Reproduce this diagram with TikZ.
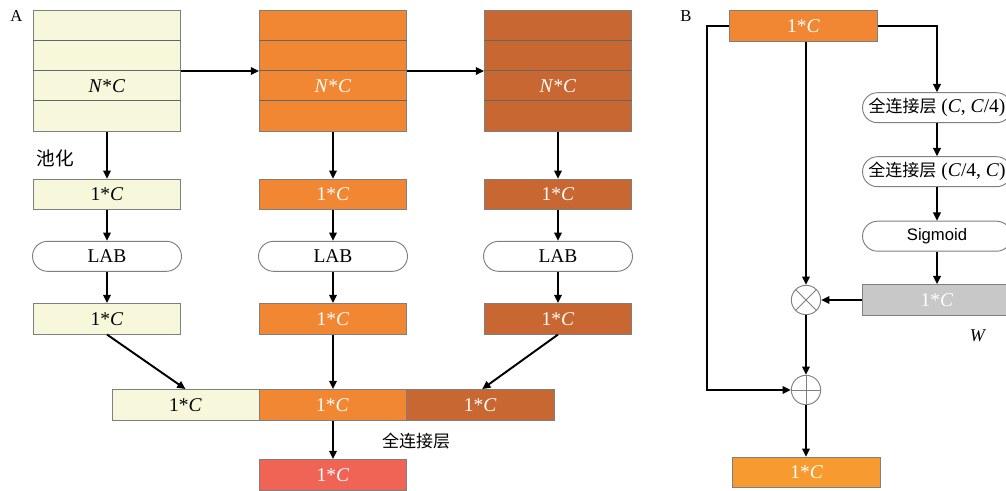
\documentclass[tikz,border=0pt]{standalone}
\usepackage{fontspec}
\setmainfont{Liberation Serif}
\newfontfamily\cjk{Noto Sans CJK SC}
\newfontfamily\sansface{Liberation Sans}
\usetikzlibrary{arrows.meta,shapes.misc,calc}

\definecolor{cream}{HTML}{F7F7DC}
\definecolor{orangeA}{HTML}{F28733}
\definecolor{rust}{HTML}{C96733}
\definecolor{salmon}{HTML}{F06455}
\definecolor{amber}{HTML}{F79A30}
\definecolor{greyW}{HTML}{C8C8C8}
\definecolor{edge}{HTML}{7F7F7F}

\newcommand\fmain{\fontsize{14.6}{17}\selectfont}
\newcommand\fcjk{\cjk\fontsize{12.75}{15}\selectfont}
\newcommand\oneC{1*\textit{C}}

\begin{document}
\begin{tikzpicture}[x=0.75pt,y=-0.75pt,
  box/.style={draw=edge,line width=0.7pt,minimum width=110.25pt,minimum height=22.9pt,inner sep=0pt,font=\fmain},
  stackbox/.style={draw=edge,line width=0.7pt,minimum width=110.25pt,minimum height=90.75pt,inner sep=0pt},
  rowline/.style={draw=black!60,line width=0.75pt},
  pill/.style={rounded rectangle,draw=edge,line width=0.7pt,fill=white,minimum width=111.75pt,minimum height=22.5pt,inner sep=0pt,font=\fmain},
  op/.style={circle,draw=edge,line width=0.7pt,fill=white,minimum size=22pt,inner sep=0pt},
  opline/.style={draw=edge,line width=0.6pt},
  arr/.style={-{Triangle[length=6.2pt,width=5.6pt]},line width=1.45pt},
  whitetext/.style={text=white}]
\useasboundingbox (0,0) rectangle (1006,490);
\clip (0,0) rectangle (1006,490);

% ---------------- panel A ----------------
\node[font=\fontsize{12.5}{14}\selectfont] (lA) at (16.5,16) {A};

% feature stacks
\node[stackbox,fill=cream]   (as) at (107,71) {};
\node[stackbox,fill=orangeA] (bs) at (333,71) {};
\node[stackbox,fill=rust]    (cs) at (558,71) {};
\foreach \s in {as,bs,cs}{
  \foreach \k in {1,2,3}{
    \draw[rowline] ($(\s.north west)+(0,30.25*\k)$) -- ($(\s.north east)+(0,30.25*\k)$);
  }
}
\node[font=\fmain] (ast) at (107,86.5) {\textit{N}*\textit{C}};
\node[font=\fmain,whitetext] (bst) at (333,86.5) {\textit{N}*\textit{C}};
\node[font=\fmain,whitetext] (cst) at (558,86.5) {\textit{N}*\textit{C}};
\draw[arr] (as.east) -- (bs.west);
\draw[arr] (bs.east) -- (cs.west);

\node[font=\cjk\fontsize{14}{16}\selectfont,anchor=west] (pool) at (32,158.5) {池化};

% pooled vectors
\node[box,fill=cream]              (a1) at (107,194.5) {\oneC};
\node[box,fill=orangeA,whitetext]  (b1) at (333,194.5) {\oneC};
\node[box,fill=rust,whitetext]     (c1) at (558,194.5) {\oneC};

% LAB blocks
\node[pill] (a2) at (107,256.3) {LAB};
\node[pill] (b2) at (333,256.3) {LAB};
\node[pill] (c2) at (558,256.3) {LAB};

% attended vectors
\node[box,fill=cream]              (a3) at (107,318.8) {\oneC};
\node[box,fill=orangeA,whitetext]  (b3) at (333,318.8) {\oneC};
\node[box,fill=rust,whitetext]     (c3) at (558,318.8) {\oneC};

\foreach \c in {a,b,c}{
  \draw[arr] (\c s.south) -- (\c1.north);
  \draw[arr] (\c1.south) -- (\c2.north);
  \draw[arr] (\c2.south) -- (\c3.north);
}

% concatenated vector
\node[box,fill=cream,minimum width=110.25pt]             (k1) at (185.5,404.8) {\oneC};
\node[box,fill=orangeA,whitetext,minimum width=110.25pt] (k2) at (332.5,404.8) {\oneC};
\node[box,fill=rust,whitetext,minimum width=111pt]       (k3) at (480.2,404.8) {\oneC};
\draw[arr] (a3.south) -- (k1.north);
\draw[arr] (b3.south) -- (k2.north -| b3.south);
\draw[arr] (c3.south) -- ($(k3.north)+(2,0)$);

% fully connected output
\node[box,fill=salmon,whitetext] (out) at (333,474.8) {\oneC};
\draw[arr] (k2.south -| out.north) -- (out.north);
\node[font=\fcjk] (fcA) at (416,441) {全连接层};

% ---------------- panel B ----------------
\node[font=\fontsize{12.5}{14}\selectfont] (lB) at (686,16) {B};

\node[box,fill=orangeA,whitetext,minimum width=111.3pt,minimum height=23.2pt] (top) at (803.5,26) {\oneC};

% excitation branch
\node[pill] (fc1) at (937,107.7) {{\fcjk 全连接层} (\textit{C}, \textit{C}/4)};
\node[pill] (fc2) at (937,171.7) {{\fcjk 全连接层} (\textit{C}/4, \textit{C})};
\node[pill,font=\sansface\fontsize{12.5}{15}\selectfont] (sig) at (937,236.2) {Sigmoid};
\node[box,fill=greyW,whitetext,minimum width=111.5pt,minimum height=23pt] (wv) at (937,300) {\oneC};
\node[font=\fontsize{13.5}{16}\selectfont] (wl) at (978,336) {\textit{W}};

\draw[arr] (top.east) -| (fc1.north);
\draw[arr] (fc1.south) -- (fc2.north);
\draw[arr] (fc2.south) -- (sig.north);
\draw[arr] (sig.south) -- (wv.north);

% scale and residual sum
\node[op] (mul) at (806,300) {};
\draw[opline] (mul.north west) -- (mul.south east) (mul.north east) -- (mul.south west);
\node[op] (add) at (806,390) {};
\draw[opline] (add.north) -- (add.south) (add.west) -- (add.east);

\node[box,fill=amber,whitetext,minimum width=111pt] (fin) at (806.7,472.5) {\oneC};

\draw[arr] (top.south -| mul.north) -- (mul.north);
\draw[arr] (wv.west) -- (mul.east);
\draw[arr] (mul.south) -- (add.north);
\draw[arr] (top.west) -- ++(-22.3,0) |- (add.west);
\draw[arr] (add.south) -- (add.south |- fin.north);
\end{tikzpicture}
\end{document}
